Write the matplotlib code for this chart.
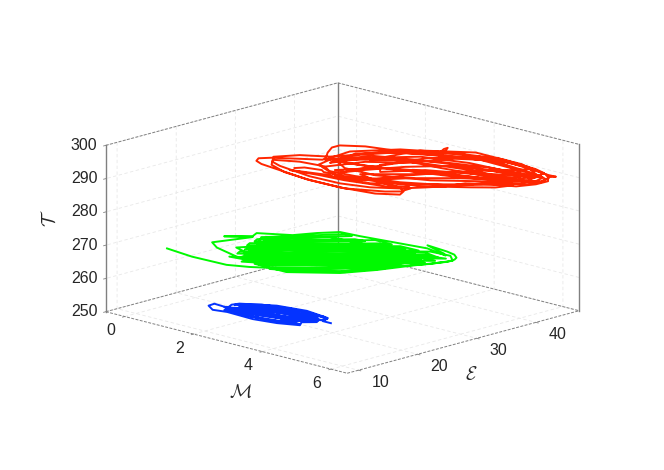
import matplotlib
matplotlib.use("Agg")
import matplotlib.pyplot as plt

plt.rcParams["font.family"] = ["Liberation Sans", "DejaVu Sans"]
plt.rcParams["mathtext.fontset"] = "cm"

x_ticks = [0, 2, 4, 6]
y_ticks = [10, 20, 30, 40]
z_ticks = [250, 260, 270, 280, 290, 300]
xlim = (-0.55, 6.47)
ylim = (8.1, 47.3)
zlim = (250, 300)

# red trajectory
M_red = [1.96,2.08,2.48,2.62,3.16,3.90,4.62,4.89,5.01,4.58,3.71,2.76,1.74,1.24,0.99,0.88,1.04,1.52,1.92,1.86,1.60,1.38,1.38,1.82,2.49,3.11,3.35,3.14,3.13,3.26,3.48,4.11,4.90,5.73,6.16,6.35,6.25,6.48,6.47,6.29,5.80,5.36,5.23,4.99,4.67,4.16,3.49,2.64,1.62,1.29,1.02,1.32,1.86,
         2.08,2.46,3.30,4.34,5.70,6.15,6.40,6.49,6.38,5.53,4.73,3.62,2.77,2.32,
         2.01,2.55,3.47,4.56,5.85,6.16,6.24,5.79,4.68,3.59,2.71,2.10,
         2.20,2.52,3.21,4.30,5.41,5.95,6.23,6.19,5.95,5.25,4.33,3.31,2.65,2.35,
         2.23,2.12,2.29,2.87,3.87,5.04,5.65,5.89,5.85,5.55,4.57,3.54,2.52,
         2.08,2.83,3.70,4.79,5.79,5.98,6.04,5.77,4.91,4.16,3.60,3.05,2.62,
         2.33,2.69,3.57,4.72,5.48,5.68,5.70,5.52,4.76,3.96,3.35,3.03,
         2.86,3.21,3.81,4.68,5.58,5.93,6.04,5.87,4.96,3.99,3.42,
         3.14,3.49,4.32,5.56,6.13,6.40,6.45,6.27,5.34,4.21,3.16,
         2.61,2.85,3.79,5.15,5.74,5.94,5.72,5.25,4.15,3.53,3.10,2.92,
         2.60,3.23,4.21,5.23,5.91,6.11,5.97,5.59,4.78,3.77,
         3.32,4.07,4.70,5.62,6.10,6.20,6.04,5.69,4.43,3.34,2.47,2.24,
         1.95,1.87,2.51,3.43,4.53,5.40,5.54,5.38,5.15,4.51,3.99,3.62,3.17,2.88,
         1.94,2.67,3.33,4.28,4.62,4.77,4.79,4.56,3.79,2.81,1.98,1.38,1.12,1.63,2.19]
E_red = [25.4,26.4,27.0,26.5,26.9,27.8,27.8,26.8,25.5,23.8,22.9,22.8,23.6,24.0,24.6,25.6,26.8,28.8,30.4,31.3,33.1,35.1,36.4,38.2,39.3,40.8,41.5,43.8,44.5,43.4,41.1,44.3,44.8,44.3,44.0,44.1,43.3,42.0,40.0,37.7,36.3,34.5,31.9,29.9,27.5,25.4,24.2,24.0,24.9,25.6,27.3,30.0,32.0,
         33.2,37.8,40.5,43.0,42.8,42.7,42.1,40.7,38.8,36.1,32.3,29.4,29.2,30.6,
         35.4,39.0,42.1,44.3,43.6,42.8,41.3,38.8,35.9,33.8,32.1,31.4,
         30.0,34.9,39.4,41.4,41.9,41.6,40.6,39.1,37.1,32.6,29.5,27.8,27.3,28.3,
         27.8,30.4,34.5,39.7,43.2,43.2,42.1,40.8,39.3,37.7,34.9,32.4,30.7,
         32.4,36.5,39.9,42.1,43.1,42.8,41.3,39.8,36.3,32.2,27.8,26.7,27.6,
         27.9,33.1,37.3,39.1,39.4,38.6,36.8,34.5,30.4,26.6,25.8,26.0,
         29.5,36.0,41.8,45.3,45.1,44.5,42.5,40.9,38.5,35.7,31.4,
         33.0,39.4,44.0,44.4,43.6,42.6,40.9,39.9,38.1,37.0,36.3,
         34.4,41.5,45.4,45.4,43.9,43.1,41.8,41.2,39.0,35.0,30.7,28.4,
         28.5,33.3,36.1,37.9,39.0,38.2,36.1,34.1,30.3,28.5,
         28.6,32.7,37.5,40.6,42.7,42.6,41.7,41.1,39.9,37.8,35.5,32.3,
         30.6,35.3,40.1,43.2,45.3,45.0,44.5,42.9,41.7,36.9,31.5,26.9,25.7,26.0,
         24.7,25.5,25.9,27.3,29.2,28.7,26.9,25.6,23.3,23.1,23.6,24.9,26.6,28.2,28.7]
T_red = [291.5]*53 + [291.8]*14 + [291.2]*12 + [291.5]*14 + [292.0]*13 + [291.0]*13 + [291.6]*12 + [291.3]*11 + [291.9]*11 + [291.4]*12 + [291.1]*10 + [291.7]*12 + [291.5]*14 + [291.2]*15

# green trajectory
M_green = [0.49,0.90,1.32,1.80,2.29,2.75,3.10,3.59,4.44,4.82,5.09,5.42,5.41,5.33,5.13,4.85,4.21,4.91,5.05,4.38,3.53,2.69,2.17,1.88,1.63,0.98,1.09,0.67,1.14,
           0.77,1.13,1.93,2.61,2.28,2.25,1.82,2.29,1.42,1.66,1.22,2.30,2.51,1.27,1.35,3.09,3.57,1.38,1.46,3.80,4.31,1.64,1.65,4.52,
           5.12,1.80,1.88,4.81,5.28,2.11,2.14,4.85,5.24,2.33,2.52,4.81,5.21,2.71,2.97,4.91,4.85,3.16,3.57,4.81,4.46,3.78,
           3.16,4.77,4.88,2.78,2.60,4.94,4.91,2.40,2.26,4.89,4.74,2.18,1.99,4.49,4.30,1.95,1.84,4.05,3.84,1.80,1.69,3.58,3.39,1.61,1.53,3.05,2.79,1.50,1.45,2.30,
           4.18,4.64,5.17,5.48,5.32,4.98,4.85,4.42,3.57]
E_green = [12.4,12.1,11.8,11.9,12.0,13.2,14.6,14.6,18.7,22.7,26.8,31.1,32.4,33.2,34.0,34.4,34.8,33.5,33.0,33.8,33.0,32.2,31.9,29.7,27.0,24.7,23.4,21.0,23.1,
           18.4,17.1,15.8,15.7,14.6,15.6,15.2,17.1,18.7,20.8,24.1,31.9,31.9,23.1,22.2,32.5,32.5,21.2,20.3,32.6,32.7,19.9,18.8,32.6,
           31.4,17.1,16.2,30.9,31.7,16.1,15.1,29.9,30.1,14.8,14.6,28.4,28.6,14.3,14.4,27.0,24.7,14.2,15.2,23.3,19.4,15.7,
           14.2,24.3,26.3,14.7,15.0,28.5,29.6,15.2,15.7,31.3,31.9,16.5,16.8,31.1,31.4,17.9,18.5,32.0,31.4,19.6,20.2,31.3,31.5,21.1,22.0,31.0,30.8,23.0,24.1,29.4,
           30.4,32.8,33.1,31.7,28.8,25.7,23.1,18.8,14.7]
T_green = [269.7]*29 + [269.4]*24 + [270.0]*22 + [269.7]*30 + [269.9]*9

# blue trajectory
M_blue = [3.69,3.45,3.36,2.65,1.91,1.24,1.18,1.29,0.87,0.89,1.18,1.52,2.29,2.88,3.34,3.20,3.42,
          1.33,1.88,2.75,3.42,3.32,2.69,1.94,1.40,1.43,2.13,3.00,3.42,3.15,2.41,1.73,
          1.42,2.07,2.86,3.24,2.77,2.17,1.64,1.77,2.43,2.90,2.07,1.39,2.09,2.88,3.22,2.50,1.88,1.37,1.34,1.96,
          1.25,1.65,2.32,2.96,3.43,3.37,2.71,1.99,1.37,1.21,1.51,2.11,2.79,3.33,2.95,2.19,1.54,1.87,2.60,3.17,3.03,2.41,1.74,2.09,2.76,3.17,2.65,2.04]
E_blue = [21.5,21.5,22.9,23.5,22.7,20.3,19.3,18.0,18.2,17.1,16.1,16.6,16.4,17.1,18.3,19.4,20.7,
          17.7,20.8,21.7,21.5,21.0,19.5,17.9,16.8,18.3,20.2,21.1,20.9,19.4,18.6,17.4,
          17.9,18.8,19.3,18.8,18.2,17.4,17.1,17.2,17.6,18.3,21.4,20.2,22.1,22.6,23.2,23.1,21.6,19.5,20.6,22.1,
          19.4,21.7,22.8,23.0,22.4,21.5,21.1,19.7,18.2,17.9,17.0,17.8,18.9,20.0,19.8,19.5,18.5,20.3,21.7,22.3,20.9,19.4,18.3,17.0,17.4,18.4,18.9,18.6]
T_blue = [251.3]*17 + [251.5]*15 + [251.1]*20 + [251.4]*28

fig = plt.figure(figsize=(6.64, 4.70), dpi=100)
ax = fig.add_axes([-17 / 664, -117.5 / 470, 700 / 664, 700 / 470], projection="3d", proj_type="ortho")
ax.view_init(elev=15.2, azim=-45.8)
ax.set_box_aspect((332, 328, 170), zoom=0.6985)
ax.computed_zorder = False
ax.patch.set_alpha(0)
ax.set_xlim(*xlim)
ax.set_ylim(*ylim)
ax.set_zlim(*zlim)
ax.set_xticks(x_ticks)
ax.set_yticks(y_ticks)
ax.set_zticks(z_ticks)

for axis in (ax.xaxis, ax.yaxis, ax.zaxis):
    axis.pane.set_facecolor("white")
    axis.pane.set_edgecolor("none")
    axis.line.set_color((0, 0, 0, 0))
    axis._axinfo["grid"].update(color="#e8e8e8", linewidth=0.6, linestyle=(0, (4, 3)))
    axis._axinfo["tick"].update(inward_factor=0.12, outward_factor=0.0, linewidth={True: 0.6, False: 0.6})

ax.tick_params(axis="both", colors="#262626", labelsize=11.5)
ax.tick_params(axis="x", color="#808080", pad=8)
ax.tick_params(axis="y", color="#808080", pad=6)
ax.tick_params(axis="z", color="#808080", pad=4)
ax.zaxis.set_ticks_position("lower")
plt.setp(ax.get_xticklabels(), va="center")
plt.setp(ax.get_yticklabels(), va="center", ha="left")
plt.setp(ax.get_zticklabels(), va="center")

# axis labels, placed as in the picture
fig.text(241 / 664, 1 - 393 / 470, r"$\mathcal{M}$", fontsize=13.5, color="#262626", ha="center", va="center")
fig.text(471 / 664, 1 - 375 / 470, r"$\mathcal{E}$", fontsize=13.5, color="#262626", ha="center", va="center")
fig.text(50 / 664, 1 - 218 / 470, r"$\mathcal{T}$", fontsize=13.5, color="#262626", ha="center", va="center", rotation=90)

# box outline
x0, x1 = xlim
y0, y1 = ylim
z0, z1 = zlim
dash = dict(color="#808080", lw=0.7, ls=(0, (3, 1.5)), zorder=1)
solid = dict(color="#808080", lw=1.0, zorder=1)
ax.plot([x0, x0], [y0, y1], [z1, z1], **dash)
ax.plot([x0, x1], [y1, y1], [z1, z1], **dash)
ax.plot([x0, x1], [y0, y0], [z0, z0], **dash)
ax.plot([x1, x1], [y0, y1], [z0, z0], **dash)
ax.plot([x0, x0], [y0, y1], [z0, z0], **dash)
ax.plot([x0, x1], [y1, y1], [z0, z0], **dash)
ax.plot([x0, x0], [y0, y0], [z0, z1], **solid)
ax.plot([x0, x0], [y1, y1], [z0, z1], **solid)
ax.plot([x1, x1], [y1, y1], [z0, z1], **solid)

ax.plot(M_red, E_red, T_red, color="#FF2600", lw=1.4, zorder=3)
ax.plot(M_green, E_green, T_green, color="#00F900", lw=1.4, zorder=3)
ax.plot(M_blue, E_blue, T_blue, color="#0433FF", lw=1.4, zorder=3)

fig.savefig("out.png", dpi=100)
